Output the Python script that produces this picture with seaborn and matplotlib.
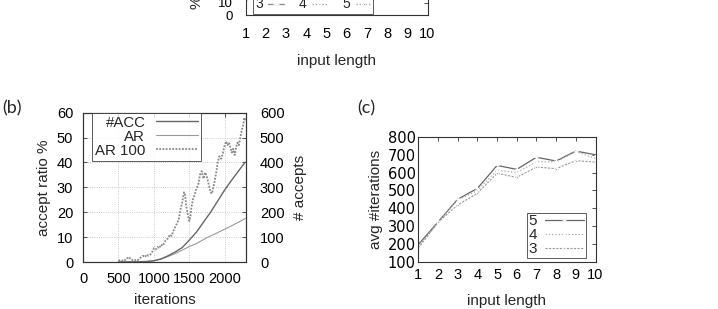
import matplotlib
matplotlib.use("Agg")
import matplotlib.pyplot as plt
import seaborn as sns

# ---------------- data ----------------
# panel (a) (mostly cropped away at the top of the picture)
a_len = [1, 2, 3, 4, 5, 6, 7, 8, 9, 10]
a_s3 = [9, 42, 60, 70, 78, 82, 85, 87, 88, 90]
a_s4 = [12, 45, 63, 72, 80, 84, 86, 88, 90, 91]
a_s5 = [14, 48, 66, 75, 82, 86, 88, 90, 91, 92]
a_xticks = [1, 2, 3, 4, 5, 6, 7, 8, 9, 10]
a_yticks = [0, 10]

# panel (b)
acc_iter = [500, 700, 900, 1000, 1100, 1200, 1300, 1400, 1500, 1600, 1700,
            1800, 1900, 2000, 2100, 2200, 2290]
acc_count = [0, 0, 2, 5, 12, 25, 40, 58, 88, 120, 160, 200, 245, 290, 330,
             368, 402]
ar_iter = [500, 700, 900, 1000, 1100, 1200, 1300, 1360, 1500, 1600, 1750,
           1900, 2000, 2100, 2200, 2290]
ar_val = [0.0, 0.1, 0.2, 0.5, 1.2, 2.2, 3.4, 4.2, 6.2, 7.4, 9.8, 11.8, 13.2,
          14.6, 16.1, 17.5]
ar100_iter = [500, 525, 550, 575, 600, 625, 650, 675, 700, 725, 750, 775, 800,
              825, 850, 875, 900, 925, 950, 975, 1000, 1025, 1050, 1075, 1100,
              1125, 1150, 1175, 1200, 1225, 1250, 1275, 1300, 1325, 1350, 1375,
              1400, 1425, 1440, 1460, 1480, 1500, 1515, 1530, 1550, 1575, 1600,
              1625, 1650, 1675, 1700, 1725, 1750, 1775, 1800, 1820, 1840, 1860,
              1880, 1900, 1925, 1950, 1975, 2000, 2020, 2040, 2060, 2080, 2100,
              2120, 2140, 2160, 2180, 2200, 2220, 2240, 2260, 2275, 2290]
ar100_val = [0.5, 0.8, 0.5, 1.0, 0.8, 1.5, 2.0, 1.0, 0.8, 0.5, 1.0, 0.8, 1.5,
             2.0, 2.5, 2.0, 3.0, 2.5, 3.0, 4.0, 5.5, 5.0, 6.0, 5.5, 7.0, 6.5,
             8.0, 9.0, 9.5, 11.0, 10.5, 12.5, 14.0, 15.5, 17.0, 21.0, 24.0,
             28.0, 27.0, 22.0, 19.0, 16.5, 18.0, 22.0, 25.0, 27.0, 29.5, 31.0,
             35.0, 36.5, 33.5, 36.0, 34.0, 31.0, 28.0, 27.5, 30.0, 33.0, 36.0,
             40.0, 42.5, 41.5, 44.0, 47.0, 48.5, 47.0, 48.0, 46.0, 44.0, 45.5,
             43.0, 46.0, 48.0, 47.0, 50.0, 53.0, 55.0, 58.0, 57.0]
b_xticks = [0, 500, 1000, 1500, 2000]
b_yticks = [0, 10, 20, 30, 40, 50, 60]
b_y2ticks = [0, 100, 200, 300, 400, 500, 600]

# panel (c)
c_len = [1, 2, 3, 4, 5, 6, 7, 8, 9, 10]
c_s5 = [195, 322, 450, 511, 640, 618, 686, 665, 721, 700]
c_s4 = [180, 320, 446, 498, 614, 600, 661, 661, 718, 680]
c_s3 = [175, 320, 418, 483, 596, 573, 631, 622, 667, 659]
c_xticks = [1, 2, 3, 4, 5, 6, 7, 8, 9, 10]
c_yticks = [100, 200, 300, 400, 500, 600, 700, 800]

# ---------------- style ----------------
sns.set_style("white")
plt.rcParams['font.family'] = ['Liberation Sans', 'DejaVu Sans']
plt.rcParams['axes.linewidth'] = 0.8
plt.rcParams['axes.edgecolor'] = '#333333'

W, H = 718, 309
DPI = 100
fig = plt.figure(figsize=(W / DPI, H / DPI), dpi=DPI)


def rect(l, r, top, bottom):
    return [l / W, 1 - bottom / H, (r - l) / W, (bottom - top) / H]


TICK_FS = 10.5
LAB_FS = 11

# ---------------- panel (a) ----------------
axA = fig.add_axes(rect(245.6, 427.5, 15 - 123, 15))
sns.lineplot(x=a_len, y=a_s3, ax=axA, color='#888888', lw=0.9, marker='+',
             markersize=4, mew=0.7, label='3')
sns.lineplot(x=a_len, y=a_s4, ax=axA, color='#999999', lw=0.9, linestyle=':',
             marker='x', markersize=3, mew=0.7, label='4')
sns.lineplot(x=a_len, y=a_s5, ax=axA, color='#999999', lw=0.9,
             linestyle=(0, (1, 1.5)), marker='*', markersize=3, mew=0.5,
             label='5')
axA.set_xlim(1, 10)
axA.set_ylim(0, 100)
axA.set_xticks(a_xticks)
axA.set_yticks(a_yticks)
axA.tick_params(direction='in', length=3, width=0.6, top=True, right=True,
                labelsize=TICK_FS, colors='#333333', labelcolor='black')
axA.tick_params(axis='x', pad=9)
axA.tick_params(axis='y', pad=9, labelsize=9.5)
axA.set_xlabel('input length', fontsize=LAB_FS, labelpad=9)
axA.set_ylabel('% solved', fontsize=LAB_FS)
axA.yaxis.set_label_coords(-0.23, 0.30)
legA = axA.legend(loc='lower left', bbox_to_anchor=(0.04, 0.012), ncol=3,
                  markerfirst=False, fontsize=10, frameon=True, fancybox=False,
                  edgecolor='#333333', handlelength=1.1, handletextpad=0.4,
                  columnspacing=1.1, borderpad=0.15, borderaxespad=0)
legA.get_frame().set_linewidth(0.7)

# ---------------- panel (b) ----------------
axB = fig.add_axes(rect(83, 246, 112.7, 262))
axB2 = axB.twinx()
sns.lineplot(x=acc_iter, y=acc_count, ax=axB2, color='#666666', lw=1.0,
             legend=False)
sns.lineplot(x=ar_iter, y=ar_val, ax=axB, color='#999999', lw=0.8,
             label='AR', zorder=3)
sns.lineplot(x=ar100_iter, y=ar100_val, ax=axB, color='#888888', lw=1.3,
             linestyle=(0, (1, 0.8)), label='AR 100', zorder=3)
axB.set_xlim(0, 2300)
axB.set_ylim(0, 60)
axB2.set_ylim(0, 600)
axB.set_xticks(b_xticks)
axB.set_yticks(b_yticks)
axB2.set_yticks(b_y2ticks)
axB.grid(True, color='#bbbbbb', linestyle=':', linewidth=0.6)
axB.tick_params(direction='in', length=3, width=0.6, top=True,
                labelsize=TICK_FS, colors='#333333', labelcolor='black')
axB.tick_params(axis='x', pad=7)
axB.tick_params(axis='y', pad=7)
axB2.tick_params(direction='in', length=3, width=0.6, labelsize=TICK_FS,
                 colors='#333333', labelcolor='black', pad=10)
axB.set_xlabel('iterations', fontsize=LAB_FS, labelpad=5)
axB.set_ylabel('accept ratio %', fontsize=LAB_FS, labelpad=4)
axB2.set_ylabel('# accepts', fontsize=LAB_FS, labelpad=6)
for sp in axB2.spines.values():
    sp.set_linewidth(0.8)

# legend for (b): label first, sample after (rows right-aligned like gnuplot)
hB, lB = axB.get_legend_handles_labels()
if axB.get_legend() is not None:
    axB.get_legend().remove()
acc_handle = axB2.get_lines()[0]
handles = [acc_handle] + hB
labels = ['#ACC'] + lB
legB = axB2.legend(handles, labels, loc='upper left',
                   bbox_to_anchor=(0.055, 1.0), markerfirst=False,
                   fontsize=10.8, frameon=True, fancybox=False,
                   edgecolor='#333333', handlelength=2.8, handletextpad=0.7,
                   labelspacing=0.0, borderpad=0.2, borderaxespad=0)
legB.get_frame().set_linewidth(0.7)
legB.set_zorder(10)

# ---------------- panel (c) ----------------
axC = fig.add_axes(rect(418.3, 595.5, 137, 261.5))
sns.lineplot(x=c_len, y=c_s5, ax=axC, color='#666666', lw=0.9, marker='+',
             markersize=3.5, mew=0.7, label='5')
sns.lineplot(x=c_len, y=c_s4, ax=axC, color='#aaaaaa', lw=0.9, linestyle=':',
             marker='x', markersize=2.5, mew=0.8, label='4')
sns.lineplot(x=c_len, y=c_s3, ax=axC, color='#999999', lw=0.8,
             linestyle=(0, (2, 1.2)), marker='*', markersize=3, mew=0.5,
             label='3')
axC.set_xlim(1, 10)
axC.set_ylim(100, 800)
axC.set_xticks(c_xticks)
axC.set_yticks(c_yticks)
axC.tick_params(direction='in', length=3, width=0.6, top=True, right=True,
                labelsize=TICK_FS, colors='#333333', labelcolor='black')
axC.tick_params(axis='x', pad=5)
axC.tick_params(axis='y', pad=2)
for t in axC.get_yticklabels():
    t.set_fontfamily('DejaVu Sans')
axC.set_xlabel('input length', fontsize=LAB_FS, labelpad=8)
axC.set_ylabel('avg #iterations', fontsize=LAB_FS, labelpad=3)
legC = axC.legend(loc='lower right', bbox_to_anchor=(0.945, 0.03),
                  markerfirst=False, fontsize=11, frameon=True,
                  fancybox=False, edgecolor='#333333', handlelength=2.6,
                  handletextpad=0.5, labelspacing=0.0, borderpad=0.1,
                  borderaxespad=0)
legC.get_frame().set_linewidth(0.7)

# panel tags
fig.text(2 / W, 1 - 108 / H, '(b)', fontsize=13, va='center', ha='left',
         family=['Lato', 'DejaVu Sans'])
fig.text(357 / W, 1 - 108 / H, '(c)', fontsize=13, va='center', ha='left',
         family=['Lato', 'DejaVu Sans'])

fig.savefig('out.png', dpi=DPI)
